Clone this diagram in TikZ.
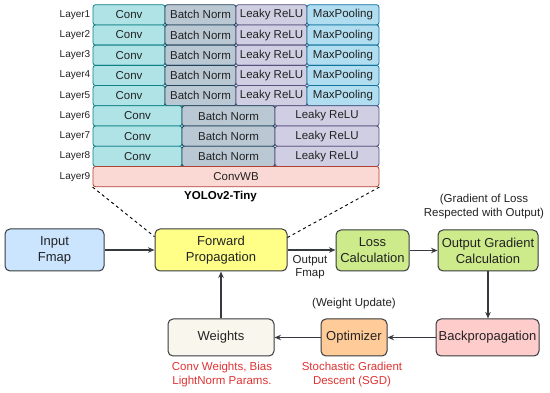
\documentclass[tikz,border=0pt]{standalone}
\usepackage{fontspec}
\setmainfont{Liberation Sans}
\usetikzlibrary{arrows.meta,calc}
\definecolor{convf}{HTML}{B0E3E6}\definecolor{convd}{HTML}{0E8088}
\definecolor{bnf}{HTML}{BAC8D3}\definecolor{bnd}{HTML}{23445D}
\definecolor{lrf}{HTML}{D0CEE2}\definecolor{lrd}{HTML}{56517E}
\definecolor{mpf}{HTML}{B1DDF0}\definecolor{mpd}{HTML}{10739E}
\definecolor{wbf}{HTML}{FAD9D5}\definecolor{wbd}{HTML}{AE4132}
\definecolor{edge}{HTML}{36393D}
\definecolor{inf}{HTML}{CCE5FF}
\definecolor{fwf}{HTML}{FFFF88}
\definecolor{grf}{HTML}{CDEB8B}
\definecolor{bpf}{HTML}{FFCCCC}
\definecolor{opf}{HTML}{FFCC99}
\definecolor{wtf}{HTML}{F9F7ED}
\definecolor{redtxt}{HTML}{E03232}
\definecolor{txt}{HTML}{222222}
\begin{document}
\begin{tikzpicture}[x=1pt,y=-1pt,
  cell/.style={draw, line width=0.8pt, rounded corners=2.5pt, minimum height=20.2pt, inner sep=0pt, text=txt, font=\fontsize{11.5}{13}\selectfont},
  lbl/.style={anchor=east, inner sep=0pt, text=txt, font=\fontsize{10}{12}\selectfont},
  box/.style={draw=edge, line width=1pt, rounded corners=5pt, inner sep=0pt, align=center, text=txt, font=\fontsize{13}{16}\selectfont},
  note/.style={inner sep=0pt, align=center, text=txt, font=\fontsize{11.5}{13.2}\selectfont},
  rnote/.style={note, text=redtxt},
  arr/.style={draw=edge, line width=1.1pt, -{Stealth[length=6.5pt,width=5.5pt]}},
  dsh/.style={draw=black, line width=0.9pt, dash pattern=on 3pt off 3pt}]
\useasboundingbox (0,0) rectangle (550,393);
% table rows 1-5
\foreach \r in {1,...,5}{
  \pgfmathsetmacro\yc{4.7+(\r-0.5)*20.22}
  \node[lbl] (lab\r) at (90.5,\yc) {Layer\r};
  \node[cell, fill=convf, draw=convd, minimum width=72pt] (conv\r) at (129,\yc) {Conv};
  \node[cell, fill=bnf, draw=bnd, minimum width=71pt] (bn\r) at (200.5,\yc) {Batch Norm};
  \node[cell, fill=lrf, draw=lrd, minimum width=71pt] (lr\r) at (271.5,\yc) {Leaky ReLU};
  \node[cell, fill=mpf, draw=mpd, minimum width=72pt] (mp\r) at (343,\yc) {MaxPooling};
}
\foreach \r in {6,7,8}{
  \pgfmathsetmacro\yc{4.7+(\r-0.5)*20.22}
  \node[lbl] (lab\r) at (90.5,\yc) {Layer\r};
  \node[cell, fill=convf, draw=convd, minimum width=89pt] (conv\r) at (137.5,\yc) {Conv};
  \node[cell, fill=bnf, draw=bnd, minimum width=93pt] (bn\r) at (228.5,\yc) {Batch Norm};
  \node[cell, fill=lrf, draw=lrd, minimum width=104pt] (lr\r) at (327,\yc) {Leaky ReLU};
}
\pgfmathsetmacro\yn{4.7+8.5*20.22}
\node[lbl] (lab9) at (90.5,\yn) {Layer9};
\node[cell, fill=wbf, draw=wbd, minimum width=286pt] (convwb) at (236,\yn) {ConvWB};
\node[inner sep=0pt, text=black, font=\bfseries\fontsize{11.5}{13}\selectfont] (yolo) at (220.5,197) {YOLOv2-Tiny};
% main boxes
\node[box, fill=inf, minimum width=99pt, minimum height=42pt] (in) at (54.5,250) {Input\\Fmap};
\node[box, fill=fwf, minimum width=132pt, minimum height=42pt] (fwd) at (221,250) {Forward\\Propagation};
\node[box, fill=grf, minimum width=73pt, minimum height=41pt] (loss) at (372.5,250.5) {Loss\\Calculation};
\node[box, fill=grf, minimum width=100pt, minimum height=41pt] (og) at (488,250.5) {Output Gradient\\Calculation};
\node[box, fill=bpf, minimum width=103pt, minimum height=37pt] (bp) at (487.5,337.5) {Backpropagation};
\node[box, fill=opf, minimum width=66pt, minimum height=37pt] (opt) at (354,337.5) {Optimizer};
\node[box, fill=wtf, minimum width=106pt, minimum height=37pt] (wts) at (221,337.5) {Weights};
% dashed zoom lines
\coordinate (dl) at ($(fwd.north west)!0.19!(fwd.south west)$);
\coordinate (dr) at ($(fwd.north east)!0.21!(fwd.south east)$);
\draw[dsh] (convwb.south west) -- (dl);
\draw[dsh] (convwb.south east) -- (dr);
% annotations
\node[note] (gradnote) at (484,206.5) {(Gradient of Loss\\Respected with Output)};
\node[note] (ofmap) at (310,267.5) {Output\\Fmap};
\node[note] (wupd) at (354,304) {(Weight Update)};
\node[rnote] (wnote) at (222,374.5) {Conv Weights, Bias\\LightNorm Params.};
\node[rnote] (sgd) at (352,374.5) {Stochastic Gradient\\Descent (SGD)};
% arrows
\draw[arr] (in.east) -- (fwd.west);
\draw[arr] (fwd.east) -- (fwd.east -| loss.west);
\draw[arr] (loss.east) -- (og.west);
\draw[arr] (og.south) -- (og.south |- bp.north);
\draw[arr] (bp.west) -- (opt.east);
\draw[arr] (opt.west) -- (wts.east);
\draw[arr] (wts.north) -- (fwd.south);
\end{tikzpicture}
\end{document}
